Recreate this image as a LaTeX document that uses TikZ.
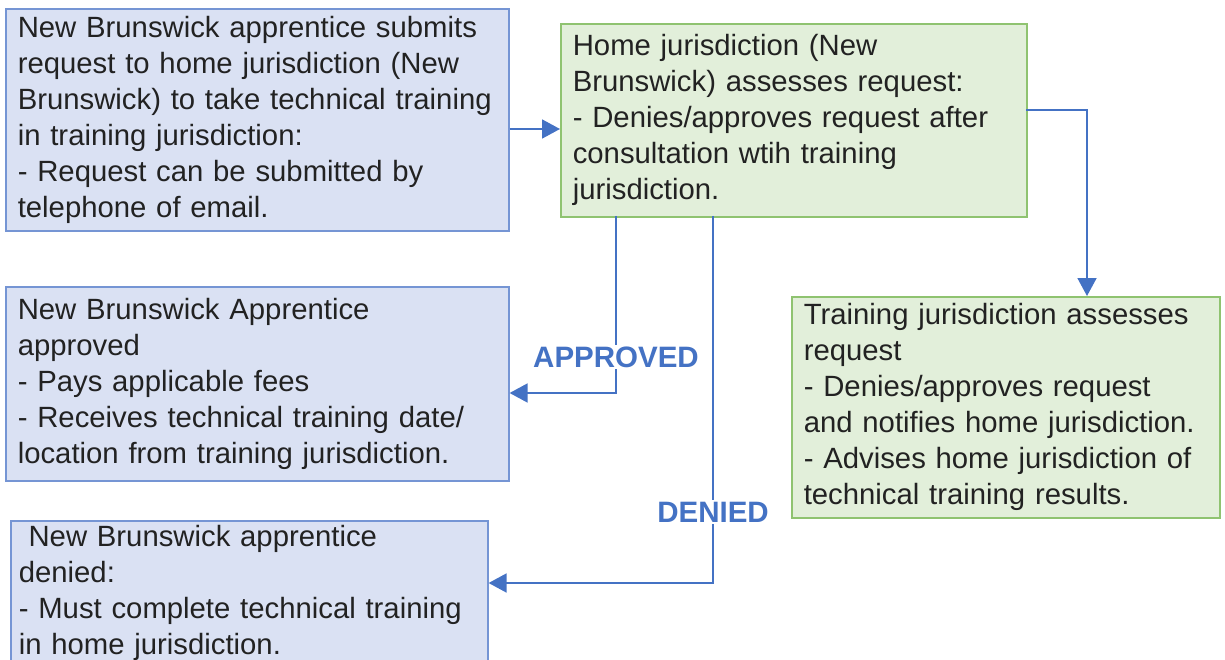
\documentclass[tikz,border=0pt]{standalone}
\usepackage{fontspec}
\setmainfont{Liberation Sans}
\usetikzlibrary{arrows.meta}
\definecolor{bfill}{HTML}{DAE1F3}
\definecolor{bdraw}{HTML}{7595D4}
\definecolor{gfill}{HTML}{E2EFDA}
\definecolor{gdraw}{HTML}{8FC370}
\definecolor{arr}{HTML}{4472C4}
\definecolor{txt}{HTML}{222222}
\begin{document}
\begin{tikzpicture}[x=1pt,y=-1pt,
  boxbase/.style={rectangle, anchor=north west, line width=1.6pt, inner xsep=12pt, inner ysep=0pt,
    align=left, text=txt, font=\fontsize{29.3}{36}\selectfont},
  bluebox/.style={boxbase, fill=bfill, draw=bdraw},
  greenbox/.style={boxbase, fill=gfill, draw=gdraw},
  conn/.style={draw=arr, line width=1.8pt, -{Triangle[length=18pt,width=19pt]}},
  lbl/.style={fill=white, text=arr, font=\fontsize{29.5}{32}\selectfont\bfseries, inner sep=2pt}]
\useasboundingbox (0,0) rectangle (1225,660);
\node[bluebox, text width=479pt, minimum height=222pt] (b1) at (5,8)
 {New Brunswick apprentice submits\\request to home jurisdiction (New\\Brunswick) to take technical training\\in training jurisdiction:\\- Request can be submitted by\\telephone of email.};
\node[greenbox, text width=442pt, minimum height=193pt] (b2) at (560,23)
 {Home jurisdiction (New\\Brunswick) assesses request:\\- Denies/approves request after\\consultation wtih training\\jurisdiction.};
\node[bluebox, text width=479pt, minimum height=194pt] (b3) at (5,286)
 {New Brunswick Apprentice\\approved\\- Pays applicable fees\\- Receives technical training date/\\location from training jurisdiction.};
\node[bluebox, inner xsep=8pt, text width=461pt, minimum height=144pt] (b4) at (10,520)
 {\ New Brunswick apprentice\\denied:\\- Must complete technical training\\in home jurisdiction.};
\node[greenbox, text width=404pt, minimum height=221pt] (b5) at (791,296)
 {Training jurisdiction assesses\\request\\- Denies/approves request\\and notifies home jurisdiction.\\- Advises home jurisdiction of\\technical training results.};
\coordinate (a1) at (616,216);
\coordinate (d1) at (713,216);
\coordinate (r1) at (1026,110);
\draw[conn] (b1.east |- 0,129) -- (b2.west |- 0,129);
\draw[conn] (r1) -- (1087,110) -- (b5.north -| 1087,0);
\draw[conn] (a1) -- (616,393) -- (b3.east |- 0,393);
\draw[conn] (d1) -- (713,583) -- (b4.east |- 0,583);
\node[lbl] (la) at (616,357) {APPROVED};
\node[lbl] (ld) at (713,512) {DENIED};
\end{tikzpicture}
\end{document}
